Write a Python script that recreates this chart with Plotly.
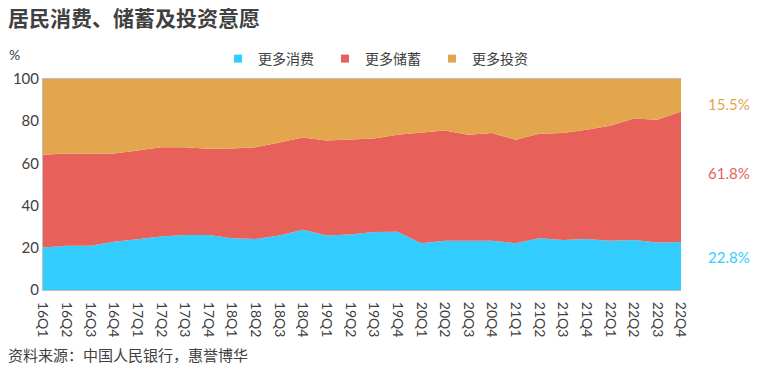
import plotly.graph_objects as go

quarters = ["16Q1","16Q2","16Q3","16Q4","17Q1","17Q2","17Q3","17Q4",
            "18Q1","18Q2","18Q3","18Q4","19Q1","19Q2","19Q3","19Q4",
            "20Q1","20Q2","20Q3","20Q4","21Q1","21Q2","21Q3","21Q4",
            "22Q1","22Q2","22Q3","22Q4"]
consumption = [20.1, 21.0, 21.0, 22.9, 24.1, 25.3, 26.1, 26.1, 24.5, 24.2, 25.8, 28.5,
               25.8, 26.3, 27.5, 27.6, 22.2, 23.3, 23.3, 23.3, 22.2, 24.5, 23.7, 24.2,
               23.3, 23.7, 22.5, 22.8]
savings = [44.0, 43.7, 43.6, 41.8, 42.0, 42.4, 41.6, 40.8, 42.6, 43.5, 44.1, 43.8,
           45.1, 45.2, 44.3, 46.0, 52.5, 52.3, 50.3, 51.1, 49.0, 49.6, 50.7, 51.7,
           54.5, 57.6, 58.2, 61.8]
investment = [round(100 - c - s, 1) for c, s in zip(consumption, savings)]
investment[-1] = 15.5

names = ["更多消费", "更多储蓄", "更多投资"]
colors = ["#33CCFF", "#E8605A", "#E3A64C"]
end_labels = ["22.8%", "61.8%", "15.5%"]

x = list(range(len(quarters)))
fig = go.Figure()
for name, vals, col in zip(names, [consumption, savings, investment], colors):
    fig.add_trace(go.Scatter(x=x, y=vals, name=name, mode="lines", stackgroup="one",
                             line=dict(width=0, color=col), fillcolor=col, showlegend=False))
# legend entries with square markers
for name, col in zip(names, colors):
    fig.add_trace(go.Scatter(x=[None], y=[None], name=name, mode="markers",
                             marker=dict(symbol="square", size=8, color=col)))

ann_y = [0.105, 0.555, 0.935]
for txt, col, yy in zip(end_labels, colors, ann_y):
    fig.add_annotation(x=1.075, y=yy, xref="paper", yref="paper", text=txt, showarrow=False,
                       font=dict(family="Lato", size=15, color=col), xanchor="center")

fig.update_layout(
    width=774, height=373,
    margin=dict(l=43, r=93, t=79, b=83),
    paper_bgcolor="white", plot_bgcolor="white",
    font=dict(family="Lato, Noto Sans CJK SC", color="#404040"),
    showlegend=True,
    legend=dict(orientation="h", x=(218 - 43) / 638, xanchor="left",
                y=1 + (79 - 59) / 211, yanchor="middle",
                font=dict(family="Noto Sans CJK SC", size=14, color="#404040"),
                traceorder="normal", itemwidth=30, tracegroupgap=0,
                entrywidth=62, entrywidthmode="pixels"),
    xaxis=dict(range=[0, 27], tickmode="array", tickvals=x, ticktext=quarters,
               tickangle=90, tickfont=dict(family="Lato", size=14, color="#404040"),
               showline=True, linecolor="#BFBFBF", linewidth=1, mirror=True,
               showgrid=False, zeroline=False, ticks="", ticklabelstandoff=8),
    yaxis=dict(range=[0, 100], dtick=20, tickfont=dict(family="Lato", size=15, color="#404040"),
               showline=True, linecolor="#BFBFBF", linewidth=1, showgrid=False,
               zeroline=False, ticks=""),
)

# Title, unit label, source
fig.add_annotation(x=-(43 - 6) / 638, y=1 + (79 - 17) / 211, xref="paper", yref="paper",
                   text="<b>居民消费、储蓄及投资意愿</b>", showarrow=False, xanchor="left",
                   yanchor="middle", font=dict(family="Noto Sans CJK SC", size=21, color="#404040"))
fig.add_annotation(x=-(43 - 7) / 638, y=1 + (79 - 55) / 211, xref="paper", yref="paper",
                   text="%", showarrow=False, xanchor="left", yanchor="middle",
                   font=dict(family="Lato", size=14, color="#404040"))
fig.add_annotation(x=-(43 - 6) / 638, y=-(354 - 290) / 211, xref="paper", yref="paper",
                   text="资料来源：中国人民银行，惠誉博华", showarrow=False, xanchor="left",
                   yanchor="middle", font=dict(family="Noto Sans CJK SC", size=15, color="#404040"))

fig.write_html("out.html", config={"displayModeBar": False},
               post_script="document.body.style.margin='0';")
